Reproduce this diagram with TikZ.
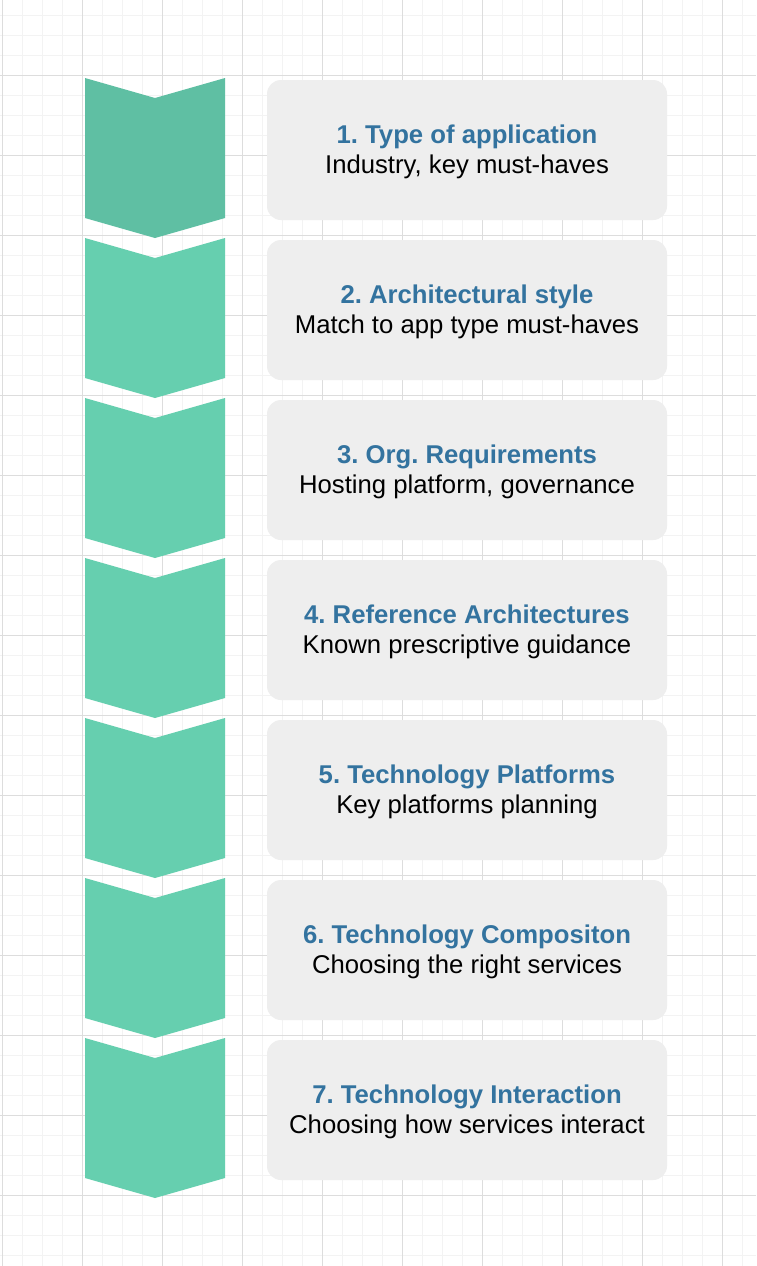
\documentclass[tikz,border=0pt]{standalone}
\usepackage{fontspec}
\setmainfont{Liberation Sans}
\usepackage{xcolor}
\definecolor{gridmajor}{HTML}{DDDDDD}
\definecolor{gridminor}{HTML}{F3F3F3}
\definecolor{chevfirst}{HTML}{5FBFA3}
\definecolor{chevrest}{HTML}{66CFAF}
\definecolor{boxgray}{HTML}{EEEEEE}
\definecolor{titleblue}{HTML}{33739F}
\frenchspacing

\begin{document}
\begin{tikzpicture}[x=1pt, y=-1pt,
    stepcard/.style={fill=boxgray, rounded corners=14pt, minimum width=400pt,
        minimum height=140pt, inner sep=0pt, align=center,
        font=\fontsize{25.7}{30.5}\selectfont}]

        % Canvas
        \fill[white] (0,0) rectangle (756,1266);
        \useasboundingbox (0,0) rectangle (756,1266);

        % Draw the background grid
        \foreach \gx in {2.5,22.5,...,742.5}
            \draw[gridminor, line width=1pt] (\gx,0) -- (\gx,1266);
        \foreach \gy in {15.5,35.5,...,1255.5}
            \draw[gridminor, line width=1pt] (0,\gy) -- (756,\gy);
        \foreach \gx in {2.5,82.5,...,722.5}
            \draw[gridmajor, line width=1pt] (\gx,0) -- (\gx,1266);
        \foreach \gy in {75.5,155.5,...,1195.5}
            \draw[gridmajor, line width=1pt] (0,\gy) -- (756,\gy);

        % Draw the chevrons and the step cards
        \foreach \i/\chev/\ttl/\sub in {
            1/chevfirst/{Type of application}/{Industry, key must-haves},
            2/chevrest/{Architectural style}/{Match to app type must-haves},
            3/chevrest/{Org. Requirements}/{Hosting platform, governance},
            4/chevrest/{Reference Architectures}/{Known prescriptive guidance},
            5/chevrest/{Technology Platforms}/{Key platforms planning},
            6/chevrest/{Technology Compositon}/{Choosing the right services},
            7/chevrest/{Technology Interaction}/{Choosing how services interact}}
        {
            \pgfmathsetmacro\t{78+160*(\i-1)}
            \fill[\chev] (85,\t) -- (155,\t+20) -- (225,\t) -- (225,\t+140)
                -- (155,\t+160) -- (85,\t+140) -- cycle;
            \node[stepcard] (card\i) at (467,\t+72) {};
            \node[font=\fontsize{25.7}{30.5}\selectfont, align=center, inner sep=0pt]
                (text\i) at ([yshift=-2pt]card\i.center)
                {{\color{titleblue}\textbf{\i. \ttl}}\\\sub};
        }

    \end{tikzpicture}
\end{document}
